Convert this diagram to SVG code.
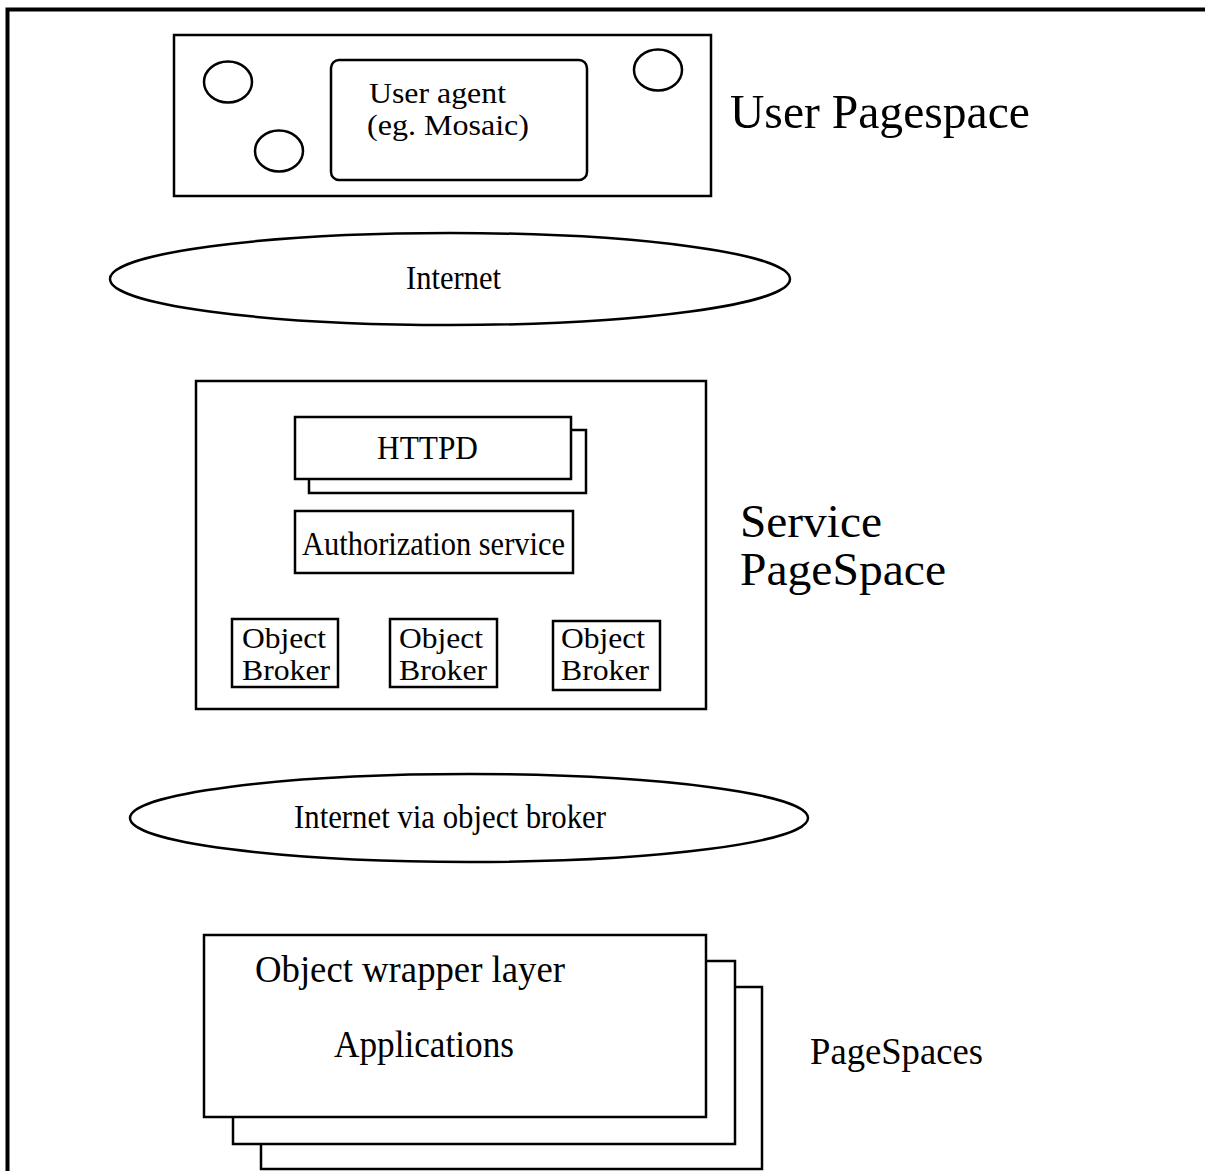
<svg xmlns="http://www.w3.org/2000/svg" width="1205" height="1171" viewBox="0 0 1205 1171">
  <style>
    .box { fill: #fff; stroke: #000; stroke-width: 2.5; }
    .thin { fill: none; stroke: #000; stroke-width: 2.5; }
    .frame { fill: none; stroke: #000; stroke-width: 4; }
    text { font-family: "Liberation Serif", "Times New Roman", serif; fill: #000; }
    .s { font-size: 33px; }
    .b { font-size: 30px; }
    .m { font-size: 37px; }
    .l { font-size: 49px; }
    .l2 { font-size: 46px; }
  </style>
  <rect width="1205" height="1171" fill="#fff"/>

  <!-- page frame (left and top edges) -->
  <path class="frame" d="M7.5,1171 V9.5 H1205"/>

  <!-- user pagespace -->
  <g id="user-pagespace">
    <rect class="box" x="174" y="35" width="537" height="161"/>
    <ellipse class="thin" cx="228" cy="82" rx="24" ry="20.5"/>
    <ellipse class="thin" cx="279" cy="151" rx="24" ry="20.5"/>
    <ellipse class="thin" cx="658" cy="70" rx="24" ry="20.5"/>
    <rect class="box" x="331" y="60" width="256" height="120" rx="8"/>
    <text class="b" x="369" y="103" textLength="137" lengthAdjust="spacingAndGlyphs">User agent</text>
    <text class="b" x="367" y="135" textLength="162" lengthAdjust="spacingAndGlyphs">(eg. Mosaic)</text>
  </g>
  <text id="label-user" class="l" x="730" y="128" textLength="300" lengthAdjust="spacingAndGlyphs">User Pagespace</text>

  <!-- internet -->
  <g id="internet">
    <ellipse class="thin" cx="450" cy="279" rx="340" ry="46"/>
    <text class="s" x="406" y="289" textLength="95" lengthAdjust="spacingAndGlyphs">Internet</text>
  </g>

  <!-- service pagespace -->
  <g id="service-pagespace">
    <rect class="box" x="196" y="381" width="510" height="328"/>
  </g>
  <g id="httpd">
    <rect class="box" x="309" y="430" width="277" height="63"/>
    <rect class="box" x="295" y="417" width="276" height="62"/>
    <text class="s" x="377" y="459" textLength="101" lengthAdjust="spacingAndGlyphs">HTTPD</text>
  </g>
  <g id="authorization">
    <rect class="box" x="295" y="511" width="278" height="62"/>
    <text class="s" x="302" y="555" textLength="263" lengthAdjust="spacingAndGlyphs">Authorization service</text>
  </g>
  <g id="broker-1">
    <rect class="box" x="232" y="619" width="106" height="68"/>
    <text class="b" x="242" y="648" textLength="84" lengthAdjust="spacingAndGlyphs">Object</text>
    <text class="b" x="242" y="680" textLength="88" lengthAdjust="spacingAndGlyphs">Broker</text>
  </g>
  <g id="broker-2">
    <rect class="box" x="390" y="619" width="107" height="68"/>
    <text class="b" x="399" y="648" textLength="84" lengthAdjust="spacingAndGlyphs">Object</text>
    <text class="b" x="399" y="680" textLength="88" lengthAdjust="spacingAndGlyphs">Broker</text>
  </g>
  <g id="broker-3">
    <rect class="box" x="553" y="621" width="107" height="69"/>
    <text class="b" x="561" y="648" textLength="84" lengthAdjust="spacingAndGlyphs">Object</text>
    <text class="b" x="561" y="680" textLength="88" lengthAdjust="spacingAndGlyphs">Broker</text>
  </g>
  <g id="label-service">
    <text class="l2" x="740" y="537" textLength="142" lengthAdjust="spacingAndGlyphs">Service</text>
    <text class="l2" x="740" y="585" textLength="206" lengthAdjust="spacingAndGlyphs">PageSpace</text>
  </g>

  <!-- internet via object broker -->
  <g id="internet-broker">
    <ellipse class="thin" cx="469" cy="818" rx="339" ry="44"/>
    <text class="s" x="294" y="828" textLength="312" lengthAdjust="spacingAndGlyphs">Internet via object broker</text>
  </g>

  <!-- stacked pagespaces -->
  <g id="pagespaces">
    <rect class="box" x="261" y="987" width="501" height="182"/>
    <rect class="box" x="233" y="961" width="502" height="183"/>
    <rect class="box" x="204" y="935" width="502" height="182"/>
    <text class="m" x="255" y="982" textLength="310" lengthAdjust="spacingAndGlyphs">Object wrapper layer</text>
    <text class="m" x="334" y="1057" textLength="180" lengthAdjust="spacingAndGlyphs">Applications</text>
  </g>
  <text id="label-pagespaces" class="m" x="810" y="1064" textLength="173" lengthAdjust="spacingAndGlyphs">PageSpaces</text>

  <g id="connectors"/>
</svg>
